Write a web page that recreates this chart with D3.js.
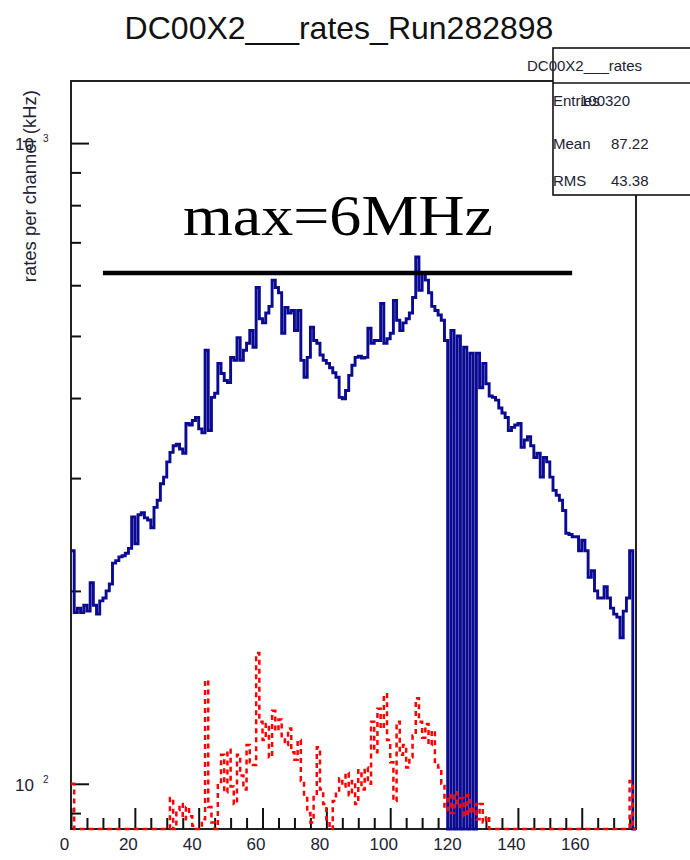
<!DOCTYPE html>
<html>
<head>
<meta charset="utf-8">
<script src="https://cdn.jsdelivr.net/npm/d3@7"></script>
<style>
  body { margin: 0; background: #fff; }
  svg { display: block; font-family: "Liberation Sans", Arial, sans-serif; }
</style>
</head>
<body>
<script>
/* ==== data ==== */
var title = "DC00X2___rates_Run282898";
var yTitle = "rates per channel (kHz)";

// blue: rate per wire, channels 0..176 (kHz); 0 = nothing in that bin
var blueRates = [
  231, 185, 188, 185, 190, 186, 206, 190, 184, 193,
  195, 200, 205, 221, 223, 226, 227, 229, 233, 261,
  237, 263, 265, 260, 258, 251, 270, 277, 294, 301,
  318, 329, 337, 339, 333, 328, 365, 363, 369, 373,
  358, 353, 475, 356, 401, 407, 453, 437, 426, 423,
  463, 458, 497, 458, 475, 487, 510, 480, 595, 532,
  524, 543, 556, 611, 595, 584, 505, 554, 543, 548,
  510, 548, 458, 431, 463, 516, 492, 487, 467, 458,
  453, 446, 438, 431, 401, 399, 411, 434, 450, 463,
  465, 462, 463, 514, 487, 492, 492, 562, 487, 495,
  505, 568, 529, 510, 524, 532, 543, 574, 664, 589,
  627, 611, 584, 556, 548, 539, 529, 492, 0, 510,
  0, 500, 0, 480, 0, 470, 0, 470, 415, 453,
  421, 403, 401, 397, 386, 379, 373, 356, 360, 363,
  365, 335, 344, 348, 337, 323, 328, 301, 323, 318,
  301, 287, 282, 277, 267, 246, 245, 243, 243, 231,
  240, 231, 210, 215, 200, 195, 195, 203, 195, 188,
  184, 182, 169, 186, 195, 231, 0
];

// red dashed: second rate histogram, same channels
var redRates = [
  100, 0, 0, 0, 0, 0, 0, 0, 0, 0,
  0, 0, 0, 0, 0, 0, 0, 0, 0, 0,
  0, 0, 0, 0, 0, 0, 0, 0, 0, 0,
  0, 95, 0, 91, 93, 88, 92, 89, 86, 0,
  0, 88, 145, 92, 87, 0, 100, 111, 97, 113,
  99, 93, 111, 103, 98, 115, 108, 107, 160, 125,
  117, 124, 110, 130, 121, 126, 118, 115, 122, 112,
  109, 117, 101, 95, 90, 87, 96, 114, 98, 93,
  88, 0, 94, 97, 102, 99, 104, 96, 101, 93,
  105, 98, 106, 100, 125, 112, 131, 122, 138, 117,
  108, 94, 125, 111, 115, 106, 110, 119, 136, 125,
  118, 124, 115, 121, 107, 106, 100, 91, 96, 90,
  97, 92, 95, 89, 96, 90, 93, 88, 93, 87,
  89, 0, 0, 0, 0, 0, 0, 0, 0, 0,
  0, 0, 0, 0, 0, 0, 0, 0, 0, 0,
  0, 0, 0, 0, 0, 0, 0, 0, 0, 0,
  0, 0, 0, 0, 0, 0, 0, 0, 0, 0,
  0, 0, 0, 0, 0, 101, 0
];

var xMajor = [0, 20, 40, 60, 80, 100, 120, 140, 160];
var xMinor = [5, 10, 15, 25, 30, 35, 45, 50, 55, 65, 70, 75, 85, 90, 95,
              105, 110, 115, 125, 130, 135, 145, 150, 155, 165, 170, 175];
var yMajor = [100, 1000];
var yMajorExp = ["2", "3"];
var yMinor = [90, 200, 300, 400, 500, 600, 700, 800, 900];

// the hand-drawn "max" marker
var maxLabel = "max=6MHz";
var maxLevel = 627;
var maxFrom = 10, maxTo = 157;

var stats = { name: "DC00X2___rates", entries: "100320", mean: "87.22", rms: "43.38" };

/* ==== canvas ==== */
var width = 690, height = 860;
var svg = d3.select("body").append("svg")
    .attr("width", width)
    .attr("height", height);

var x = d3.scaleLinear().domain([0, 177]).range([71, 636]);
var y = d3.scaleLog().domain([85, 1250]).range([829, 81]);

// empty / off-scale bins sit on the bottom edge, like root does
function yv(v) { return v > 0 ? Math.min(y(v), y.range()[0]) : y.range()[0]; }

// title
svg.append("text")
    .attr("x", 339).attr("y", 39)
    .attr("text-anchor", "middle")
    .style("font-size", "32px")
    .attr("fill", "#111")
    .text(title);

// frame
svg.append("rect")
    .attr("x", x(0)).attr("y", y(1250))
    .attr("width", x(177) - x(0)).attr("height", y(85) - y(1250))
    .attr("fill", "none").attr("stroke", "#222").attr("stroke-width", 2);

svg.append("clipPath").attr("id", "frame")
  .append("rect")
    .attr("x", x(0) - 2).attr("y", y(1250))
    .attr("width", x(177) - x(0) + 4).attr("height", y(85) - y(1250) + 2);

// histograms as steps
function steps(vals) {
  var pts = vals.map(function(v, i) { return [i, v]; });
  pts.push([vals.length, vals[vals.length - 1]]);
  return d3.line()
    .x(function(d) { return x(d[0]); })
    .y(function(d) { return yv(d[1]); })
    .curve(d3.curveStepAfter)(pts);
}

// x axis, ticks inside (minor and major in their own groups)
var gxMinor = svg.append("g").attr("transform", "translate(0," + y(85) + ")")
    .call(d3.axisBottom(x).tickValues(xMinor).tickSize(-11).tickFormat(""));
var gx = svg.append("g").attr("transform", "translate(0," + y(85) + ")")
    .call(d3.axisBottom(x).tickValues(xMajor).tickSize(-21).tickPadding(9));
[gxMinor, gx].forEach(function(g) {
  g.select(".domain").remove();
  g.selectAll("line").attr("stroke", "#111").attr("stroke-width", 2);
});
gx.selectAll("text")
    .attr("dx", -7)
    .style("font-size", "17px")
    .attr("fill", "#223");

// y axis, ticks inside
var gyMinor = svg.append("g").attr("transform", "translate(" + x(0) + ",0)")
    .call(d3.axisLeft(y).tickValues(yMinor).tickSize(-10).tickFormat(""));
var gy = svg.append("g").attr("transform", "translate(" + x(0) + ",0)")
    .call(d3.axisLeft(y).tickValues(yMajor).tickSize(-18).tickFormat(""));
[gyMinor, gy].forEach(function(g) {
  g.select(".domain").remove();
  g.selectAll("line").attr("stroke", "#111").attr("stroke-width", 2);
});

yMajor.forEach(function(v, i) {
  var t = svg.append("text")
      .attr("x", 15).attr("y", y(v) + 7)
      .style("font-size", "17px")
      .attr("fill", "#223");
  t.append("tspan").text("10");
  t.append("tspan").attr("dx", 9).attr("dy", -8).style("font-size", "10px").text(yMajorExp[i]);
});

var plot = svg.append("g").attr("clip-path", "url(#frame)");

plot.append("path")
    .attr("d", steps(blueRates))
    .attr("fill", "none")
    .attr("stroke", "#0a0a92")
    .attr("stroke-width", 2.9);

plot.append("path")
    .attr("d", steps(redRates))
    .attr("fill", "none")
    .attr("stroke", "#ff0000")
    .attr("stroke-width", 2.5)
    .attr("stroke-dasharray", "5,4");

// y title
svg.append("text")
    .attr("transform", "translate(36,90) rotate(-90)")
    .attr("text-anchor", "end")
    .style("font-size", "18.5px")
    .attr("fill", "#223")
    .text(yTitle);

// max marker
svg.append("line")
    .attr("x1", x(maxFrom)).attr("x2", x(maxTo))
    .attr("y1", y(maxLevel)).attr("y2", y(maxLevel))
    .attr("stroke", "#000").attr("stroke-width", 4.5);

svg.append("text")
    .attr("x", 183).attr("y", 235)
    .attr("textLength", 310)
    .attr("lengthAdjust", "spacingAndGlyphs")
    .style("font-family", "'Liberation Serif', 'Times New Roman', serif")
    .style("font-size", "57px")
    .attr("fill", "#000")
    .text(maxLabel);

// stats box
var sb = svg.append("g");
sb.append("rect")
    .attr("x", 553).attr("y", 48).attr("width", 160).attr("height", 147)
    .attr("fill", "#fff").attr("stroke", "#111").attr("stroke-width", 1.6);
sb.append("line")
    .attr("x1", 553).attr("x2", 690).attr("y1", 83).attr("y2", 83)
    .attr("stroke", "#111").attr("stroke-width", 1.6);
sb.append("text").attr("x", 527).attr("y", 71).style("font-size", "15px").text(stats.name);
sb.append("text").attr("x", 553).attr("y", 106).style("font-size", "15px").text("Entries");
sb.append("text").attr("x", 580).attr("y", 106).style("font-size", "15px").text(stats.entries);
sb.append("text").attr("x", 553).attr("y", 149).style("font-size", "15px").text("Mean");
sb.append("text").attr("x", 611).attr("y", 149).style("font-size", "15px").text(stats.mean);
sb.append("text").attr("x", 553).attr("y", 186).style("font-size", "15px").text("RMS");
sb.append("text").attr("x", 611).attr("y", 186).style("font-size", "15px").text(stats.rms);
sb.selectAll("text").attr("fill", "#223");
</script>
</body>
</html>
